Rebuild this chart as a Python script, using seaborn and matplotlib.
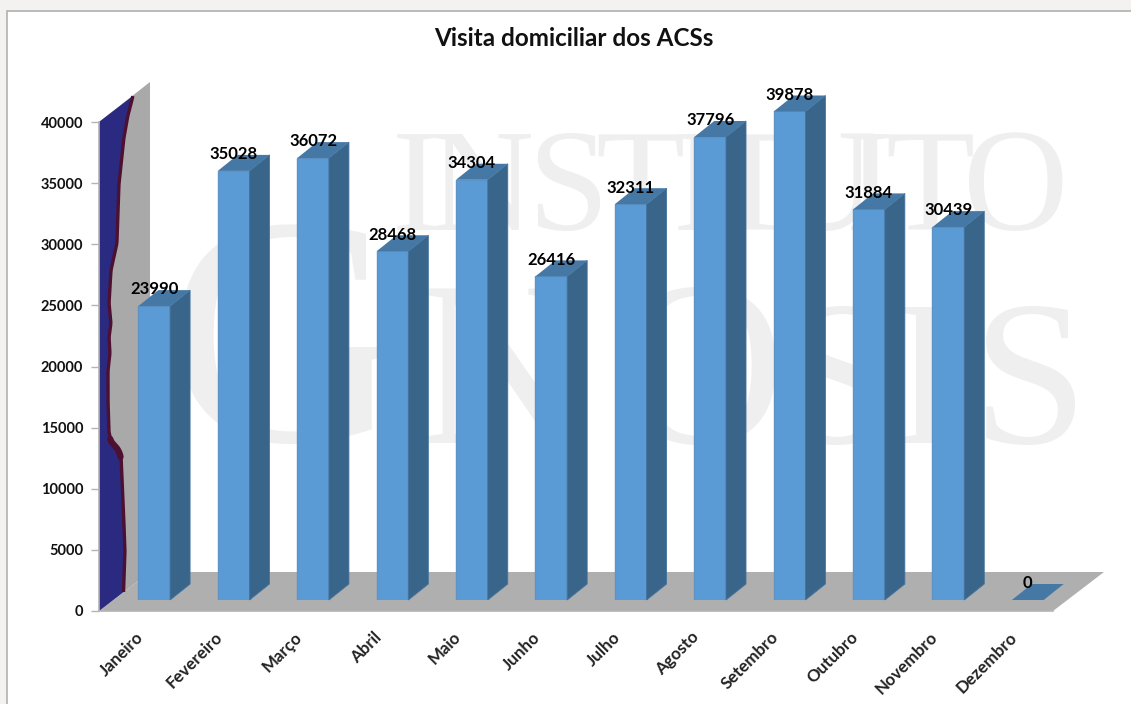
import numpy as np
import pandas as pd
import matplotlib
matplotlib.use('Agg')
import matplotlib.pyplot as plt
from matplotlib.patches import Polygon, Rectangle
from matplotlib.transforms import ScaledTranslation
import seaborn as sns

meses = ['Janeiro', 'Fevereiro', 'Março', 'Abril', 'Maio', 'Junho', 'Julho',
         'Agosto', 'Setembro', 'Outubro', 'Novembro', 'Dezembro']
visitas = [23990, 35028, 36072, 28468, 34304, 26416, 32311, 37796, 39878, 31884, 30439, 0]
yticks = [0, 5000, 10000, 15000, 20000, 25000, 30000, 35000, 40000]
titulo = 'Visita domiciliar dos ACSs'

W, H = 1131, 704
FONT = 'Lato'
FRONT, SIDE, TOP, EDGE = '#5b9bd5', '#3a658b', '#4678a6', '#5f93c6'
WALL, FLOOR, LINE = '#a9a9a9', '#afafaf', '#b4b4b4'

sns.set_theme(style='white')
plt.rcParams['font.family'] = [FONT, 'DejaVu Sans']

df = pd.DataFrame({'mes': meses, 'visitas': visitas})


def px_axes(fig, x0, y0, x1, y1, **kw):
    # rectangle given in image pixels, y going down
    return fig.add_axes([x0 / W, 1 - y1 / H, (x1 - x0) / W, (y1 - y0) / H], **kw)


fig = plt.figure(figsize=(W / 100, H / 100), dpi=100, facecolor='#f3f2f0')

# background: frame, watermark, wall and floor, in pixel coordinates
bg = px_axes(fig, 0, 0, W, H, zorder=0)
bg.set_xlim(0, W)
bg.set_ylim(H, 0)
bg.axis('off')
bg.add_patch(Rectangle((7, 11), W, H, fc='white', ec='#b0b0b0', lw=1.2))

# watermark, letter by letter because the logo is tighter than the font
wm = '#efefef'
letras = [('I', 416, 230, 105), ('N', 481, 230, 105), ('S', 568, 230, 105), ('T', 640, 230, 105),
          ('I', 697, 230, 105), ('T', 752, 230, 105), ('U', 824, 230, 105), ('I', 870, 230, 105),
          ('T', 930, 230, 105), ('O', 1016, 230, 105),
          ('G', 285, 441, 235), ('N', 500, 443, 170), ('O', 700, 443, 170), ('S', 840, 443, 150),
          ('I', 925, 443, 150), ('S', 1030, 443, 150)]
for letra, x, y, fs in letras:
    bg.text(x, y, letra, family='Liberation Serif', fontsize=fs, color=wm,
            ha='center', va='baseline')

bg.add_patch(Polygon([(99, 122), (150, 82), (150, 572), (99, 611)], fc=WALL, ec='none'))
bg.add_patch(Polygon([(99, 611), (150, 572), (1104, 572), (1053, 611)], fc=FLOOR, ec='none'))

# wavy edge of the dark area on the wall, smoothed a little
cy = np.array([96, 115, 137, 183, 243, 270, 303, 323, 337, 353, 370, 400, 433, 443, 447, 455,
               500, 550, 592], dtype=float)
cx = np.array([133, 128, 124, 119, 117, 111, 109, 111, 109, 110, 108, 108, 109, 112, 117, 121,
               123, 125, 123.5])
yy = np.arange(96, 593.0)
xx = np.interp(yy, cy, cx)
k = np.ones(7) / 7
xx_s = np.convolve(np.pad(xx, 3, mode='edge'), k, mode='valid')
bg.add_patch(Polygon([(99, 122)] + list(zip(xx_s, yy)) + [(99, 611)], fc='#2a2a80', ec='none'))
bg.plot(xx_s, yy, color='#4d1030', lw=2.4, solid_capstyle='butt')
ombro = (yy > 438) & (yy < 458)
bg.plot(xx_s[ombro] - 0.5, yy[ombro], color='#4d1030', lw=4.5, solid_capstyle='round')

# axis with the ticks, on the front edge of the floor
ax = px_axes(fig, 99, 122, 1053, 611, zorder=1)
ax.patch.set_alpha(0)
ax.set_xlim(-0.5, 11.5)
ax.set_ylim(0, 40000)
for s in ['top', 'right']:
    ax.spines[s].set_visible(False)
for s in ['left', 'bottom']:
    ax.spines[s].set_color(LINE)
    ax.spines[s].set_linewidth(1.2)
ax.set_yticks(yticks)
ax.set_yticklabels([str(v) for v in yticks], fontsize=10.5, fontweight='bold', color='#111111')
ax.set_xticks(range(12))
ax.set_xticklabels(meses, rotation=45, ha='right', rotation_mode='anchor',
                   fontsize=12.2, fontweight='bold', color='#222222')
ax.tick_params(axis='y', length=6, width=1, color=LINE, pad=5.3, left=True)
ax.tick_params(axis='x', length=0, pad=13, bottom=False)
# month labels sit a bit left of their bars
desvio = ScaledTranslation(-4 / 100, 0, fig.dpi_scale_trans)
for rotulo in ax.get_xticklabels():
    rotulo.set_transform(rotulo.get_transform() + desvio)

# bars stand a little inside the floor
ax_b = px_axes(fig, 114.5, 110, 1067.5, 600, zorder=2)
ax_b.patch.set_alpha(0)
sns.barplot(data=df, x='mes', y='visitas', ax=ax_b, color=FRONT, saturation=1, width=0.4,
            edgecolor=EDGE, linewidth=1)
ax_b.set_xlim(-0.5, 11.5)
ax_b.set_ylim(0, 40000)
ax_b.axis('off')

dx = 20 / (953 / 12)
dy = 16 / (490 / 40000)
for barra in list(ax_b.patches):
    x0, larg, alt = barra.get_x(), barra.get_width(), barra.get_height()
    x1 = x0 + larg
    lado = [(x1, 0), (x1 + dx, dy), (x1 + dx, alt + dy), (x1, alt)]
    topo = [(x0, alt), (x0 + dx, alt + dy), (x1 + dx, alt + dy), (x1, alt)]
    if alt > 0:
        ax_b.add_patch(Polygon(lado, fc=SIDE, ec='#44749f', lw=0.6, clip_on=False))
    ax_b.add_patch(Polygon(topo, fc=TOP, ec='none', clip_on=False))
    ax_b.annotate(str(int(alt)), (x0 + larg / 2, alt), xytext=(0, 12), textcoords='offset points',
                  ha='center', va='center', fontsize=12, fontweight='bold', color='black',
                  annotation_clip=False)

fig.text(574 / W, 1 - 38 / H, titulo, ha='center', va='center', fontsize=17.5,
         fontweight='bold', color='#111111')

fig.savefig('out.png', dpi=100, facecolor=fig.get_facecolor())
